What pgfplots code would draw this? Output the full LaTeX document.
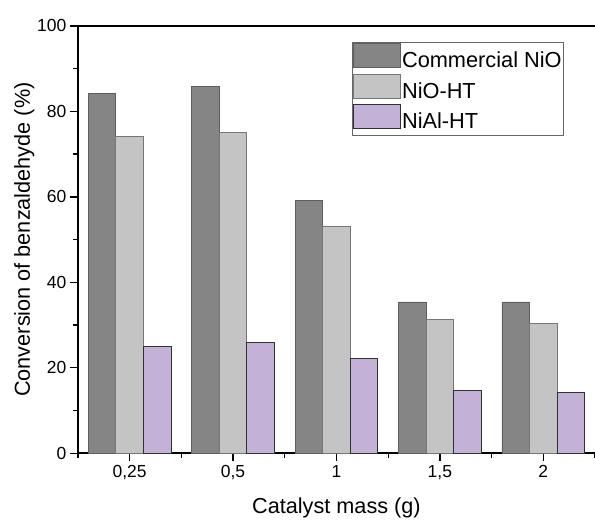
\documentclass[border=0pt]{standalone}
\usepackage{fontspec}
\setmainfont{Liberation Sans}
\usepackage{pgfplots}
\pgfplotsset{compat=1.18}
\definecolor{cdark}{HTML}{858585}
\definecolor{cdarkedge}{HTML}{5E5E5E}
\definecolor{clight}{HTML}{C4C4C4}
\definecolor{clightedge}{HTML}{767676}
\definecolor{cpurple}{HTML}{C3B1D7}
\definecolor{cpurpleedge}{HTML}{303030}
\begin{document}
\begin{tikzpicture}
\begin{axis}[
  width=518pt, height=428pt, scale only axis,
  xmin=-0.5, xmax=4.5, ymin=0, ymax=100,
  xtick={0,1,2,3,4},
  xticklabels={{0,25},{0,5},1,{1,5},2},
  minor xtick={-0.5,0.5,1.5,2.5,3.5,4.5},
  ytick={0,20,40,60,80,100},
  minor ytick={10,30,50,70,90},
  axis x line*=box, axis y line*=left,
  axis line style={-, line width=1.5pt},
  xtick pos=bottom, ytick pos=left,
  tick align=outside,
  major tick length=8pt, minor tick length=4.5pt,
  every tick/.style={black, line width=1.3pt},
  /pgf/number format/assume math mode=true,
  ticklabel style={font=\fontsize{17.5}{20}\selectfont},
  xticklabel style={yshift=-1pt},
  xlabel={Catalyst mass (g)},
  ylabel={Conversion of benzaldehyde (\%)},
  label style={font=\fontsize{21.7}{24}\selectfont},
  xlabel style={yshift=-11pt},
  ylabel shift={-4pt},
  legend style={at={(rel axis cs:1,1)}, anchor=north east, xshift=-31pt, yshift=-16pt,
    draw=black!60, line width=0.8pt, font=\fontsize{21.8}{24}\selectfont,
    inner sep=1pt, row sep=0pt,
    nodes={inner sep=1pt, text height=15pt, text depth=5pt}},
  legend cell align=left,
  legend image code/.code={\draw[#1] (0pt,-5pt) rectangle (47pt,19pt);},
]
\addplot[ybar, bar width=0.2667, bar shift=-0.2667, fill=cdark, draw=cdarkedge, line width=0.8pt]
  coordinates {(0,84.1) (1,85.9) (2,59.2) (3,35.4) (4,35.4)};
\addplot[ybar, bar width=0.2667, bar shift=0, fill=clight, draw=clightedge, line width=0.8pt]
  coordinates {(0,74.1) (1,75.1) (2,53.2) (3,31.3) (4,30.3)};
\addplot[ybar, bar width=0.2667, bar shift=0.2667, fill=cpurple, draw=cpurpleedge, line width=0.8pt]
  coordinates {(0,25.0) (1,26.0) (2,22.1) (3,14.6) (4,14.2)};
\legend{Commercial NiO, NiO-HT, NiAl-HT}
\end{axis}
\pgfresetboundingbox
\path ([shift={(-78pt,-66pt)}]current axis.south west) rectangle ([shift={(0pt,26pt)}]current axis.north east);
\end{tikzpicture}
\end{document}
